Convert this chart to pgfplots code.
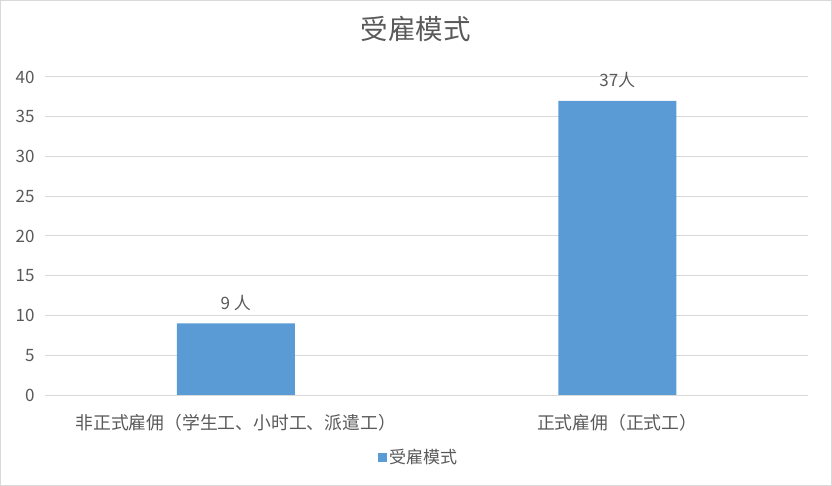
\documentclass[border=0pt]{standalone}
\usepackage{pgfplots}
\pgfplotsset{compat=1.18}
\usepackage{fontspec}
\setmainfont{Noto Sans CJK SC}
\definecolor{barblue}{HTML}{5B9BD5}
\definecolor{txt}{HTML}{595959}
\definecolor{gridc}{HTML}{D9D9D9}
\begin{document}
\begin{tikzpicture}
  \draw[gridc, line width=1bp] (0.5bp,0.5bp) rectangle (831.5bp,485.5bp);
  \begin{axis}[
    at={(45bp,91bp)}, anchor=south west,
    scale only axis, width=763bp, height=318bp,
    xmin=-0.5, xmax=1.5, ymin=0, ymax=40,
    ytick={0,5,...,40},
    xtick=data,
    xticklabels={非正式雇佣（学生工、小时工、派遣工）, 正式雇佣（正式工）},
    ymajorgrids, grid style={gridc, line width=1bp},
    axis line style={draw=none}, tick style={draw=none},
    /pgf/number format/assume math mode=true,
    font=\fontsize{17bp}{20bp}\selectfont,
    tick label style={txt},
    yticklabel style={xshift=-7bp},
    xticklabel style={anchor=base, yshift=-30.5bp, font=\fontsize{17.8bp}{20bp}\selectfont},
    title={受雇模式},
    title style={txt, anchor=base, at={(0.5,1)}, yshift=32bp, xshift=-11bp,
      font=\fontsize{27.5bp}{32bp}\selectfont},
    ybar, bar width=118bp,
    point meta=explicit symbolic,
    nodes near coords={\pgfplotspointmeta},
    nodes near coords style={txt, anchor=base, yshift=14bp, font=\fontsize{17bp}{20bp}\selectfont},
    legend style={at={(0.5,0)}, anchor=center, yshift=-62.5bp, xshift=-8bp, draw=none,
      fill=none, text=txt, font=\fontsize{17bp}{20bp}\selectfont},
    legend image code/.code={\fill[barblue] (0bp,-4.5bp) rectangle (9bp,4.5bp);},
  ]
    \addplot[fill=barblue, draw=none] coordinates {(0,9) [9 人] (1,37) [37人]};
    \addlegendentry{受雇模式}
  \end{axis}
\end{tikzpicture}
\end{document}
